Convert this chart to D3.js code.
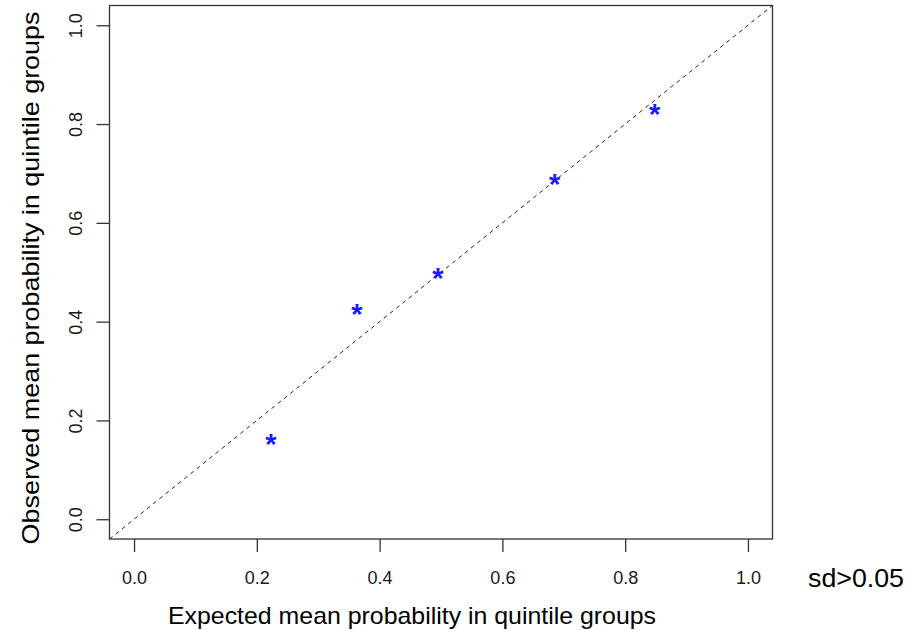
<!DOCTYPE html>
<html>
<head>
<meta charset="utf-8">
<script src="https://cdn.jsdelivr.net/npm/d3@7"></script>
<style>
  html, body { margin: 0; padding: 0; background: #fff; }
  svg { display: block; font-family: "Liberation Sans", Arial, sans-serif; }
</style>
</head>
<body>
<svg id="chart" width="914" height="630"></svg>
<script>
// Calibration of quintile groups: expected vs observed mean probability
const expectedMean = [0.223, 0.363, 0.495, 0.685, 0.848];
const observedMean = [0.160, 0.422, 0.496, 0.686, 0.827];
const xTicks = [0.0, 0.2, 0.4, 0.6, 0.8, 1.0];
const yTicks = [0.0, 0.2, 0.4, 0.6, 0.8, 1.0];
const xTitle = "Expected mean probability in quintile groups";
const yTitle = "Observed mean probability in quintile groups";
const sideNote = "sd>0.05";

const svg = d3.select("#chart");
const box = { left: 109.5, right: 772.5, top: 5.5, bottom: 539 };

// 4% padding on each side of [0,1], as in base R plots
const x = d3.scaleLinear().domain([-0.04, 1.04]).range([box.left, box.right]);
const y = d3.scaleLinear().domain([-0.04, 1.04]).range([box.bottom, box.top]);

const fmt = d3.format(".1f");
const tickFont = "18px";

// reference line y = x across the full plotting region
svg.append("line")
  .attr("x1", x(-0.04)).attr("y1", y(-0.04))
  .attr("x2", x(1.04)).attr("y2", y(1.04))
  .attr("stroke", "#222").attr("stroke-width", 1)
  .attr("stroke-dasharray", "4,4");

// plot frame
svg.append("rect")
  .attr("x", box.left).attr("y", box.top)
  .attr("width", box.right - box.left).attr("height", box.bottom - box.top)
  .attr("fill", "none").attr("stroke", "#333").attr("stroke-width", 1.3);

// bottom axis
const xAxis = svg.append("g").attr("transform", `translate(0,${box.bottom})`)
  .call(d3.axisBottom(x).tickValues(xTicks).tickFormat(fmt).tickSize(13));
xAxis.select(".domain").remove();
xAxis.selectAll(".tick line").attr("stroke", "#333").attr("stroke-width", 1.3);
xAxis.selectAll(".tick text")
  .attr("y", 45).attr("dy", null)
  .attr("fill", "#1a1a1a")
  .style("font-size", tickFont).style("font-family", "Liberation Sans, Arial, sans-serif");

// left axis with labels parallel to the axis
const yAxis = svg.append("g").attr("transform", `translate(${box.left},0)`)
  .call(d3.axisLeft(y).tickValues(yTicks).tickFormat(fmt).tickSize(13));
yAxis.select(".domain").remove();
yAxis.selectAll(".tick line").attr("stroke", "#333").attr("stroke-width", 1.3);
yAxis.selectAll(".tick text")
  .attr("x", null).attr("dy", null)
  .attr("text-anchor", "middle")
  .attr("transform", "translate(-28,0) rotate(-90)")
  .attr("fill", "#1a1a1a")
  .style("font-size", tickFont).style("font-family", "Liberation Sans, Arial, sans-serif");

// axis titles
svg.append("text")
  .attr("x", 412).attr("y", 624)
  .attr("text-anchor", "middle")
  .attr("textLength", 488).attr("lengthAdjust", "spacingAndGlyphs")
  .style("font-size", "24px").attr("fill", "#000")
  .text(xTitle);

svg.append("text")
  .attr("transform", `translate(39,278) rotate(-90)`)
  .attr("text-anchor", "middle")
  .attr("textLength", 533).attr("lengthAdjust", "spacingAndGlyphs")
  .style("font-size", "24px").attr("fill", "#000")
  .text(yTitle);

svg.append("text")
  .attr("x", 808).attr("y", 587)
  .attr("textLength", 96).attr("lengthAdjust", "spacingAndGlyphs")
  .style("font-size", "25px").attr("fill", "#000")
  .text(sideNote);

// asterisk markers for each quintile group
const starSize = 29;
svg.append("g").selectAll("text")
  .data(expectedMean.map((e, i) => ({ e, o: observedMean[i] })))
  .join("text")
  .attr("x", d => x(d.e))
  .attr("y", d => y(d.o) + starSize * 0.47)
  .attr("text-anchor", "middle")
  .style("font-size", starSize + "px")
  .style("font-weight", "bold")
  .attr("fill", "#1a1aff")
  .text("*");
</script>
</body>
</html>
